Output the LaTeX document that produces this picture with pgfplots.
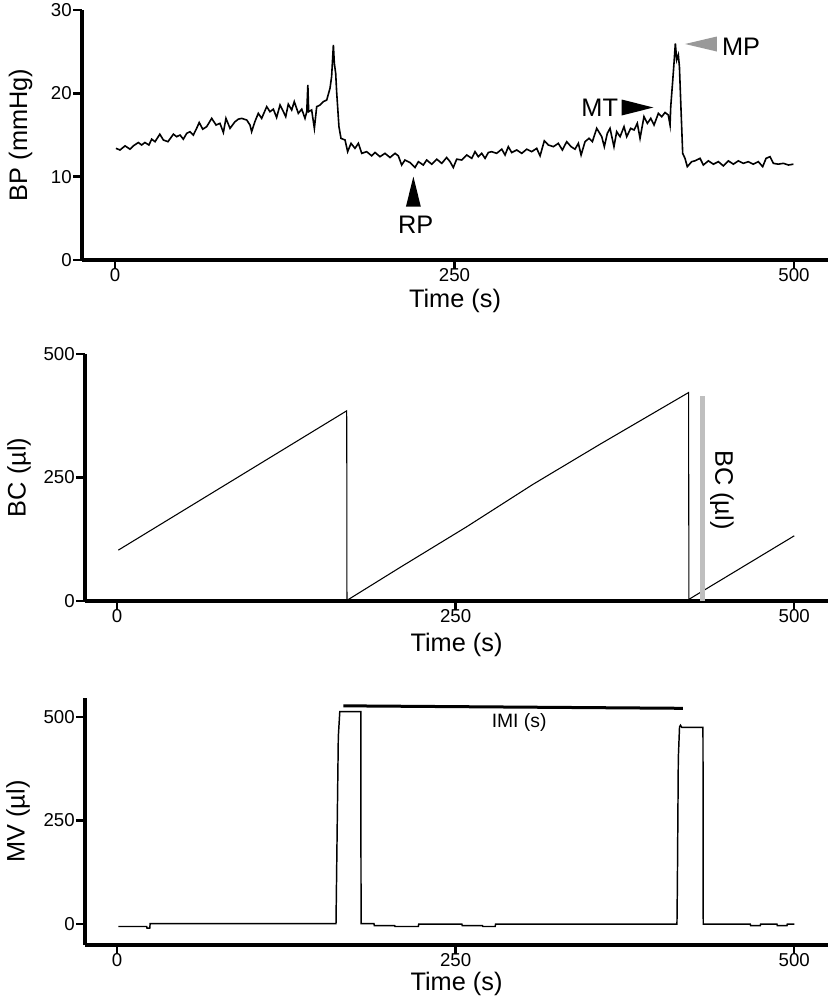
\documentclass[border=0pt]{standalone}
\usepackage{fontspec}
\setmainfont{Liberation Sans}
\usepackage{pgfplots}
\pgfplotsset{compat=1.18}

\newcommand{\lbl}{\fontsize{19}{22}\selectfont}
\pgfplotsset{
  trace/.style={
    scale only axis, clip=false,
    axis x line*=bottom, axis y line*=left,
    axis line style={line width=2.4pt},
    every outer x axis line/.append style={line width=2.4pt},
    every outer y axis line/.append style={line width=2.4pt},
    every tick/.style={black, line width=1.8pt},
    tick align=outside, major tick length=6.5pt,
    xtick={0,250,500},
    /pgf/number format/assume math mode=true,
    ticklabel style={font=\fontsize{14}{16}\selectfont},
    xticklabel style={inner sep=0pt},
    yticklabel style={inner sep=1pt},
    label style={font=\lbl},
    xlabel={Time (s)},
  }
}

\begin{document}
\begin{tikzpicture}
\useasboundingbox (0,0) rectangle (624pt,-750.75pt);

% blood pressure
\begin{axis}[trace, at={(61.5pt,-195pt)}, anchor=south west,
  width=559.5pt, height=187.5pt,
  xmin=-24.3, xmax=525, ymin=0, ymax=30, ytick={0,10,20,30},
  ylabel={BP (mmHg)},
  xlabel style={at={(axis description cs:0.5,-0.164)}, anchor=center},
  ylabel style={at={(axis description cs:-0.0824,0.5)}, anchor=center}]
\addplot[black, line width=1.2pt] coordinates {
(0.7,13.4) (3.7,13.2) (7.4,13.7) (11,13.3) (13.5,13.7) (17.2,14.1) (19.6,13.8)
(22,14.1) (25,13.8) (27,14.5) (29.5,14.2) (33,15.1) (35.6,14.4) (39,14.2)
(43,15.1) (45.4,14.8) (47.9,15.0) (50.3,14.5) (52.8,15.2) (55.2,15.4) (57.7,15.0)
(60.1,15.8) (62,16.5) (64.6,15.7) (67.5,16.0) (71.2,17.0) (74.4,16.2) (77.3,16.4)
(79.8,15.3) (81.7,17.0) (84.7,15.8) (88.4,16.6) (90.8,16.9) (93.3,17.0) (97,16.8)
(99.4,16.2) (100.6,15.4) (103,16.6) (105.5,17.6) (108,17.0) (111.7,18.4) (114.1,17.8)
(116.6,18.1) (119,17.1) (121.5,18.6) (124,17.8) (125.7,17.2) (127.6,18.7) (130.1,18.0)
(132,19.0) (135,17.6) (137.5,18.1) (139.9,17.0) (141.2,17.8) (142.0,21.0) (142.6,17.8)
(144.8,18.0) (146.8,15.8) (148.5,18.4) (151,18.6) (153.4,19.0) (155.9,19.2) (158.3,20.6)
(159.5,22.0) (160.8,25.8) (161.5,23.6) (162.5,22.4) (163.2,20.2) (164.9,16.0) (166.4,14.6)
(169.4,14.4) (171.3,13.0) (173.8,14.0) (176.7,13.4) (179.2,14.0) (181.7,12.8) (185.3,13.0)
(189,12.5) (191.5,12.9) (195.1,12.4) (198.8,12.8) (202.5,12.3) (206.2,12.8) (208.6,12.5)
(211.1,11.4) (213.5,12.0) (217.2,11.7) (220.9,11.1) (223.4,11.8) (227,11.4) (229.5,12.0)
(233.2,11.5) (236.9,12.1) (240.6,11.6) (244.2,12.3) (246.7,11.8) (249.1,11.1) (251.6,12.1)
(255.3,12.0) (259,12.6) (262.7,12.2) (265.1,13.0) (267.5,12.4) (270,12.8) (272.5,12.2)
(274.9,12.9) (277.4,13.0) (281,12.8) (284.8,13.3) (287.2,12.6) (289.6,13.6) (292.1,12.9)
(295.8,13.2) (299.5,12.8) (303.2,13.3) (306.8,13.0) (310.5,13.4) (313,12.5) (316.1,14.3)
(319.1,13.8) (322.8,13.6) (326.4,14.0) (329.4,13.2) (332.6,14.2) (335.8,13.6) (338.7,13.3)
(341.2,14.0) (343.2,12.6) (346.1,14.2) (349,14.6) (351.5,14.2) (354.7,15.8) (358.4,14.8)
(360.3,13.6) (362.5,15.2) (364.5,15.8) (367.4,13.6) (369.4,15.4) (371.9,14.8) (374.8,16.0)
(376.8,14.8) (379.7,15.8) (382.2,15.6) (384.6,16.4) (386.6,14.6) (389.5,17.2) (392,16.4)
(394.5,17.0) (396.9,16.2) (400.1,17.6) (402.6,17.2) (405,17.7) (407.4,17.4) (408.7,16.2)
(409.2,18.4) (410.7,21.6) (411.6,23.6) (412.6,26.0) (413.6,24.0) (414.8,24.6) (415.6,23.2)
(416.6,18.8) (418,12.8) (419.7,12.2) (421.4,11.2) (424.6,11.8) (427,11.9) (430.8,12.2)
(433.2,11.4) (436.9,11.9) (440.6,11.5) (444.3,11.8) (447.9,11.3) (451.6,11.9) (455.3,11.5)
(459,11.9) (462.7,11.6) (466.3,11.8) (470,11.5) (473.7,11.8) (476.9,11.2) (479.4,12.2)
(482.3,12.4) (484.8,11.6) (488.4,11.5) (492.1,11.6) (495.8,11.4) (499.5,11.5)};
\fill (axis cs:219.7,10.0) -- (axis cs:214.2,6.4) -- (axis cs:225.2,6.4) -- cycle;
\node[font=\lbl, anchor=base, inner sep=0pt] at (axis cs:221.4,3.2) {RP};
\fill (axis cs:373.1,19.26) -- (axis cs:396.4,18.3) -- (axis cs:373.1,17.34) -- cycle;
\node[font=\lbl, anchor=base east, inner sep=0pt] at (axis cs:370.6,17.2) {MT};
\fill[black!40] (axis cs:419.7,25.92) -- (axis cs:443.1,26.82) -- (axis cs:443.1,25.02) -- cycle;
\node[font=\lbl, anchor=base west, inner sep=0pt] at (axis cs:446.8,24.6) {MP};
\end{axis}

% bladder content
\begin{axis}[trace, at={(63.75pt,-450.75pt)}, anchor=south west,
  width=557.25pt, height=185.25pt,
  xmin=-23.6, xmax=524.9, ymin=0, ymax=500, ytick={0,250,500},
  ylabel={BC (µl)},
  xlabel style={at={(axis description cs:0.5,-0.178)}, anchor=center},
  ylabel style={at={(axis description cs:-0.0888,0.5)}, anchor=center}]
\addplot[black, line width=0.8pt] coordinates {
(1,103) (85.9,245) (169.6,385) (169.8,0) (170.8,3) (209,68) (258,150) (307,236)
(357,318) (422,422) (422.2,0) (423.2,5) (500,132)};
\addplot[black!25, line width=3.75pt] coordinates {(432.6,0) (432.6,415)};
\node[font=\lbl, rotate=-90] at (axis cs:446.6,224.7) {BC (µl)};
\end{axis}

% micturition volume
\begin{axis}[trace, at={(63.75pt,-708.75pt)}, anchor=south west,
  width=557.25pt, height=185.25pt,
  xmin=-23.6, xmax=524.9, ymin=-50.7, ymax=545.9, ytick={0,250,500},
  ylabel={MV (µl)},
  xlabel style={at={(axis description cs:0.5,-0.158)}, anchor=center},
  ylabel style={at={(axis description cs:-0.0902,0.5)}, anchor=center}]
\addplot[black, line width=1.1pt] coordinates {
(1,-6) (21.9,-6) (22.2,-10) (24.2,-10) (24.5,1) (161.7,1) (162.2,134) (163.4,452)
(164.5,513) (180,513) (180.2,1) (189.7,1) (190,-4) (205,-4) (205.3,-6) (222.5,-6)
(222.8,0) (254.6,0) (254.9,-4) (269.8,-4) (270.1,-6) (279.2,-6) (279.5,0) (413.4,0)
(413.7,90) (414.4,400) (415.3,476) (416,480) (417,475) (432.6,475) (432.8,0)
(467.5,0) (467.8,-4) (474.9,-4) (475.2,0) (487.2,0) (487.5,-4) (494.6,-4) (494.9,0) (500,0)};
\addplot[black, line width=2.25pt] coordinates {(167.2,527) (417.8,521)};
\node[font=\fontsize{14.5}{16}\selectfont, anchor=base, inner sep=0pt] at (axis cs:296.9,475) {IMI (s)};
\end{axis}
\end{tikzpicture}
\end{document}
